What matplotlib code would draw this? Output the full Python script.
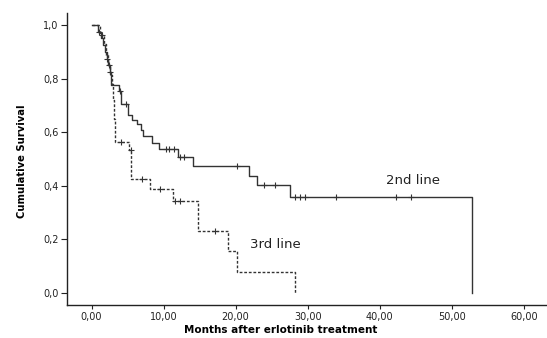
import matplotlib
matplotlib.use("Agg")
import matplotlib.pyplot as plt
from matplotlib import font_manager
from matplotlib.ticker import FuncFormatter

# --- Kaplan-Meier step data ---
# 2nd line (solid)
t2 = [0.0, 0.9, 1.3, 1.6, 1.9, 2.1, 2.3, 2.5, 2.75, 3.75, 4.15, 5.1, 5.6, 6.3,
      6.9, 7.1, 8.45, 9.35, 12.0, 14.1, 21.8, 23.0, 27.5, 52.8]
s2 = [1.0, 0.975, 0.95, 0.925, 0.90, 0.875, 0.85, 0.825, 0.776, 0.752, 0.705,
      0.665, 0.645, 0.63, 0.61, 0.586, 0.558, 0.536, 0.509, 0.474, 0.438,
      0.403, 0.357, 0.0]
cens2 = [1.0, 2.2, 2.55, 4.0, 4.85, 10.4, 10.7, 11.5, 12.3, 12.8, 20.2, 24.0,
         25.4, 28.2, 28.9, 29.6, 34.0, 42.3, 44.3]

# 3rd line (dotted)
t3 = [0.0, 1.2, 1.7, 2.0, 2.3, 2.6, 2.85, 3.0, 3.1, 3.2, 5.2, 5.55, 8.1, 11.3,
      14.8, 18.95, 20.2, 28.3]
s3 = [1.0, 0.963, 0.93, 0.89, 0.85, 0.815, 0.78, 0.72, 0.65, 0.565, 0.534,
      0.425, 0.388, 0.344, 0.233, 0.157, 0.08, 0.0]
cens3 = [1.45, 2.4, 4.15, 5.45, 7.07, 9.47, 11.55, 12.25, 17.2]

xticks = [0, 10, 20, 30, 40, 50, 60]
yticks = [0.0, 0.2, 0.4, 0.6, 0.8, 1.0]


def surv_at(t, s, x):
    # value of the step function just after x
    v = s[0]
    for ti, si in zip(t, s):
        if ti <= x:
            v = si
    return v


# narrow font for the y label if there is one
try:
    font_manager.findfont(font_manager.FontProperties(family="Liberation Sans Narrow"),
                          fallback_to_default=False)
    ylab_font = dict(family="Liberation Sans Narrow", fontsize=10, fontweight="bold")
except Exception:
    ylab_font = dict(family="DejaVu Sans", fontsize=8, fontweight="bold",
                     fontstretch="condensed")

col = "#333333"
fig = plt.figure(figsize=(5.47, 3.38), dpi=100)
ax = fig.add_axes([0.1225, 0.0976, 0.876, 0.864])

ax.step(t2, s2, where="post", color=col, lw=1.0)
ax.step(t3, s3, where="post", color=col, lw=1.0, linestyle=(0, (2, 1.3)))
ax.plot(cens2, [surv_at(t2, s2, c) for c in cens2], "+", color=col, ms=4, mew=0.8)
ax.plot(cens3, [surv_at(t3, s3, c) for c in cens3], "+", color=col, ms=4, mew=0.8)

ax.text(44.6, 0.42, "2nd line", fontsize=9.5, ha="center", va="center", color="#222222")
ax.text(25.5, 0.18, "3rd line", fontsize=9.5, ha="center", va="center", color="#222222")

ax.set_xlim(-3.4, 63.1)
ax.set_ylim(-0.045, 1.045)
ax.set_xticks(xticks)
ax.set_yticks(yticks)
ax.xaxis.set_major_formatter(FuncFormatter(lambda v, p: f"{v:.2f}".replace(".", ",")))
ax.yaxis.set_major_formatter(FuncFormatter(lambda v, p: f"{v:.1f}".replace(".", ",")))
ax.tick_params(direction="out", width=0.8, labelsize=7, colors="#222222")
ax.tick_params(axis="x", length=3, pad=2)
ax.tick_params(axis="y", length=4, pad=2)

for side in ["top", "right"]:
    ax.spines[side].set_visible(False)
for side in ["left", "bottom"]:
    ax.spines[side].set_linewidth(1.0)
    ax.spines[side].set_color("#222222")

ax.set_xlabel("Months after erlotinib treatment", fontsize=7.5, fontweight="bold")
ax.xaxis.set_label_coords(0.446, -0.086)
ax.xaxis.label.set_va("center")
ax.set_ylabel("Cumulative Survival", **ylab_font)
ax.yaxis.set_label_coords(-0.094, 0.491)
ax.yaxis.label.set_va("center")

fig.savefig("out.png", dpi=100)
